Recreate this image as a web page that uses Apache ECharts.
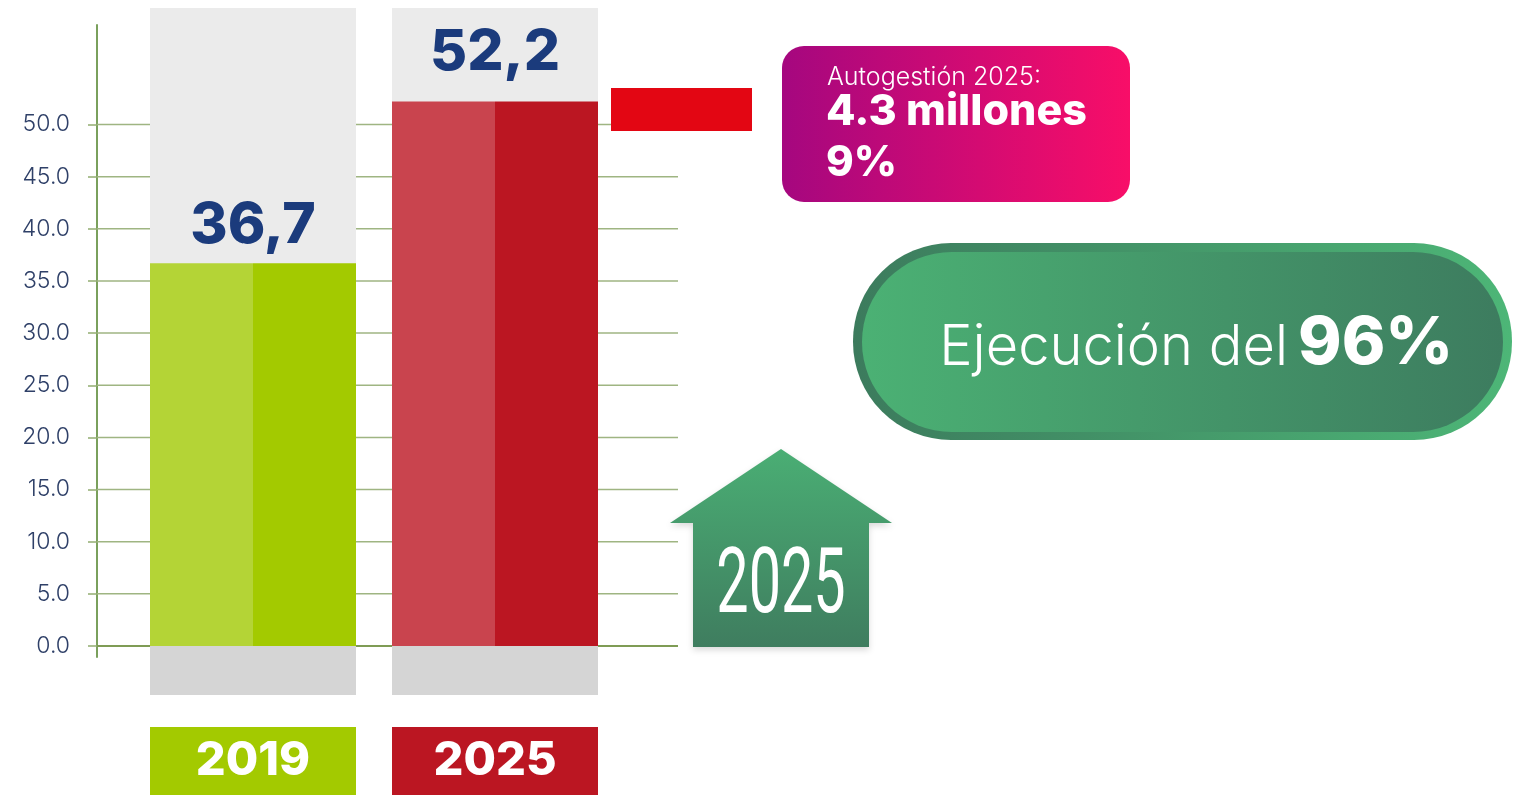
<!DOCTYPE html>
<html>
<head>
<meta charset="utf-8">
<script src="https://cdn.jsdelivr.net/npm/echarts@6/dist/echarts.min.js"></script>
<style>
html,body{margin:0;padding:0;background:#fff;}
#chart{width:1514px;height:795px;}
</style>
</head>
<body>
<div id="chart"></div>
<script>
// ---- data ----
const categories = ['2019', '2025'];
const values = [36.7, 52.2];
const tickValues = [0, 5, 10, 15, 20, 25, 30, 35, 40, 45, 50];
const autogestionLines = ['Autogestión 2025:', '4.3 millones', '9%'];
const ejecucionParts = ['Ejecución del', '96%'];
const arrowLabel = '2025';

// ---- layout helpers ----
const zeroY = 646, unitPx = 10.43;
const gridATop = 25, gridABottom = 657;
const gridBTop = 8, gridBBottom = 695;
const yA = { min: -(gridABottom - zeroY) / unitPx, max: (zeroY - gridATop) / unitPx };
const yB = { min: -(gridBBottom - zeroY) / unitPx, max: (zeroY - gridBTop) / unitPx };
const zeroFrac = (zeroY - gridBTop) / (gridBBottom - gridBTop);

const barColors = [
  { light: '#b4d436', dark: '#a3ca00' },
  { light: '#c9444e', dark: '#bb1622' }
];
const boxColors = ['#a3ca00', '#bb1622'];
const labelExtra = [9, 20];

function hGrad(c) {
  return new echarts.graphic.LinearGradient(0, 0, 1, 0, [
    { offset: 0, color: c.light }, { offset: 0.5, color: c.light },
    { offset: 0.5, color: c.dark }, { offset: 1, color: c.dark }
  ]);
}

const barData = values.map((v, i) => ({
  value: v,
  itemStyle: { color: hGrad(barColors[i]) },
  label: { distance: labelExtra[i] }
}));

const rich = {};
categories.forEach((c, i) => {
  rich['c' + i] = {
    backgroundColor: boxColors[i], color: '#fff', width: 206, height: 68, lineHeight: 68,
    fontSize: 47, fontWeight: 800, fontFamily: 'Inter', align: 'center'
  };
});

const chart = echarts.init(document.getElementById('chart'), null, { renderer: 'canvas' });
chart.setOption({
  animation: false,
  backgroundColor: '#ffffff',
  grid: [
    { left: 97, width: 678 - 97, top: gridATop, height: gridABottom - gridATop, containLabel: false },
    { left: 132, width: 484, top: gridBTop, height: gridBBottom - gridBTop, containLabel: false }
  ],
  xAxis: [
    { gridIndex: 0, type: 'value', min: 0, max: 1, show: false },
    {
      gridIndex: 1, type: 'category', data: categories,
      axisLine: { show: false }, axisTick: { show: false },
      axisLabel: {
        margin: 32, interval: 0,
        formatter: (v) => '{c' + categories.indexOf(v) + '|' + v + '}',
        rich: rich
      }
    }
  ],
  yAxis: [
    {
      gridIndex: 0, type: 'value', min: yA.min, max: yA.max,
      axisLine: { show: true, lineStyle: { color: '#7aa05c', width: 2 } },
      axisTick: { show: true, customValues: tickValues, length: 9, lineStyle: { color: '#93ad72', width: 1.5 } },
      axisLabel: {
        customValues: tickValues, margin: 27,
        formatter: (v) => v.toFixed(1),
        color: '#2f4068', fontSize: 23, fontFamily: 'Inter', fontWeight: 300
      },
      splitLine: { show: false }
    },
    { gridIndex: 1, type: 'value', min: yB.min, max: yB.max, show: false }
  ],
  series: [
    {
      type: 'custom', xAxisIndex: 0, yAxisIndex: 0, z: 1, silent: true,
      data: tickValues.map(v => [0, v]),
      encode: { x: 0, y: 1 },
      renderItem: function (params, api) {
        const p = api.coord([0, api.value(1)]);
        const cs = params.coordSys;
        const isZero = api.value(1) === 0;
        return {
          type: 'line',
          shape: { x1: cs.x, y1: p[1], x2: cs.x + cs.width, y2: p[1] },
          style: { stroke: isZero ? '#7f9c55' : '#9fb582', lineWidth: isZero ? 2 : 1.5 }
        };
      }
    },
    {
      type: 'bar', xAxisIndex: 1, yAxisIndex: 1, z: 2, barWidth: 206,
      data: barData,
      showBackground: true,
      backgroundStyle: {
        color: new echarts.graphic.LinearGradient(0, 0, 0, 1, [
          { offset: 0, color: '#ebebeb' }, { offset: zeroFrac, color: '#ebebeb' },
          { offset: zeroFrac, color: '#d5d5d5' }, { offset: 1, color: '#d5d5d5' }
        ])
      },
      label: {
        show: true, position: 'top',
        formatter: (p) => p.value.toFixed(1).replace('.', ','),
        color: '#1b3b7c', fontSize: 57, fontWeight: 800, fontFamily: 'Inter'
      }
    }
  ],
  graphic: [
    { type: 'rect', z: 10, shape: { x: 611, y: 88, width: 141, height: 43 }, style: { fill: '#e30613' } },
    {
      type: 'rect', z: 10, shape: { x: 782, y: 46, width: 348, height: 156, r: 22 },
      style: { fill: new echarts.graphic.LinearGradient(0, 0, 1, 0, [
        { offset: 0, color: '#a5077f' }, { offset: 1, color: '#f80e68' }]) }
    },
    { type: 'text', z: 11, x: 827, y: 77, style: { text: autogestionLines[0], fill: '#fff', font: '300 25px Inter', textAlign: 'left', textVerticalAlign: 'middle' } },
    { type: 'text', z: 11, x: 826, y: 112, style: { text: autogestionLines[1], fill: '#fff', font: '800 43px Inter', textAlign: 'left', textVerticalAlign: 'middle' } },
    { type: 'text', z: 11, x: 826, y: 163, style: { text: autogestionLines[2], fill: '#fff', font: '800 42px Inter', textAlign: 'left', textVerticalAlign: 'middle' } },
    {
      type: 'rect', z: 10, shape: { x: 853, y: 243, width: 659, height: 197, r: 98 },
      style: { fill: new echarts.graphic.LinearGradient(0, 0, 1, 0, [
        { offset: 0, color: '#3c7b5d' }, { offset: 1, color: '#4db677' }]) }
    },
    {
      type: 'rect', z: 10, shape: { x: 862, y: 252, width: 641, height: 180, r: 90 },
      style: { fill: new echarts.graphic.LinearGradient(0, 0, 1, 0, [
        { offset: 0, color: '#4bb174' }, { offset: 1, color: '#3d7c5f' }]) }
    },
    { type: 'text', z: 11, x: 1288, y: 348, style: { text: ejecucionParts[0], fill: '#fff', font: '300 56px Inter', textAlign: 'right', textVerticalAlign: 'middle' } },
    { type: 'text', z: 11, x: 1298, y: 344, style: { text: ejecucionParts[1], fill: '#fff', font: '800 66px Inter', textAlign: 'left', textVerticalAlign: 'middle' } },
    {
      type: 'polygon', z: 10,
      shape: { points: [[670, 523], [781, 449], [892, 523], [869, 523], [869, 647], [693, 647], [693, 523]] },
      style: {
        fill: new echarts.graphic.LinearGradient(0, 0, 0, 1, [
          { offset: 0, color: '#4aae74' }, { offset: 1, color: '#3f7d5f' }]),
        shadowBlur: 6, shadowColor: 'rgba(0,0,0,0.15)', shadowOffsetY: 3
      }
    },
    { type: 'text', z: 11, x: 781, y: 589, scaleX: 0.64, style: { text: arrowLabel, fill: '#fff', font: '400 90px Roboto', textAlign: 'center', textVerticalAlign: 'middle' } }
  ]
});
</script>
</body>
</html>
